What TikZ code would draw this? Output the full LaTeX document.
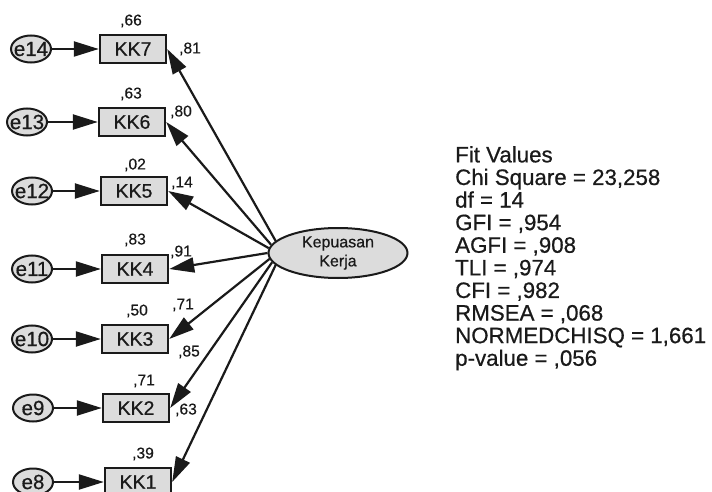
\documentclass[tikz,border=0pt]{standalone}
\usepackage{fontspec}
\setmainfont{Liberation Sans}[FakeBold=0.6]
\usetikzlibrary{arrows.meta,shapes.geometric}
\definecolor{cInk}{HTML}{1A1A1A}
\definecolor{cFill}{HTML}{DCDCDC}
\newcommand{\errlbl}[1]{\makebox[0pt]{#1}}

\begin{document}
\begin{tikzpicture}[x=1pt,y=-1pt,
  obs/.style={draw=cInk,fill=cFill,line width=2.4pt,minimum width=66pt,
              minimum height=28pt,inner sep=0pt,text=cInk,
              font=\fontsize{19.5}{20}\selectfont},
  err/.style={ellipse,draw=cInk,fill=cFill,line width=2pt,minimum width=40pt,
              minimum height=27pt,inner sep=0pt,text=cInk,
              font=\fontsize{20.5}{21}\selectfont},
  lat/.style={ellipse,draw=cInk,fill=cFill,line width=2pt,minimum width=139pt,
              minimum height=50pt,inner sep=0pt,align=center,text=cInk,
              font=\fontsize{16}{19}\selectfont},
  ar/.style={-{Triangle[length=25pt,width=15pt]},line width=2.2pt,draw=cInk,fill=cInk},
  est/.style={font=\fontsize{15.6}{16}\selectfont,inner sep=0pt,text=cInk}]

\clip (0,0) rectangle (712,492);

\node[obs] (kk7) at (133,49) {KK7};
\node[obs] (kk6) at (132,122) {KK6};
\node[obs] (kk5) at (134,191) {KK5};
\node[obs] (kk4) at (135,269) {KK4};
\node[obs] (kk3) at (135,339) {KK3};
\node[obs] (kk2) at (136,408) {KK2};
\node[obs] (kk1) at (138,482) {KK1};

\node[err] (e14) at (31,49) {\errlbl{e14}};
\node[err] (e13) at (27,122) {\errlbl{e13}};
\node[err] (e12) at (32,191) {\errlbl{e12}};
\node[err] (e11) at (32,269) {\errlbl{e11}};
\node[err] (e10) at (32,339) {\errlbl{e10}};
\node[err] (e9) at (33,408) {\errlbl{e9}};
\node[err] (e8) at (33,482) {\errlbl{e8}};

\node[lat] (lv) at (338,253) {Kepuasan\\Kerja};

\draw[ar] (e14) -- (kk7);
\draw[ar] (e13) -- (kk6);
\draw[ar] (e12) -- (kk5);
\draw[ar] (e11) -- (kk4);
\draw[ar] (e10) -- (kk3);
\draw[ar] (e9) -- (kk2);
\draw[ar] (e8) -- (kk1);

\draw[ar] (lv.169) -- (kk7.east);
\draw[ar] (lv.173) -- (kk6.east);
\draw[ar] (lv.176) -- (kk5.east);
\draw[ar] (lv.180) -- (kk4.east);
\draw[ar] (lv.185) -- (kk3.east);
\draw[ar] (lv.188) -- (kk2.east);
\draw[ar] (lv.191) -- (kk1.east);

\node[est] (r7) at (131,21) {,66};
\node[est] (r6) at (131,94) {,63};
\node[est] (r5) at (135,165) {,02};
\node[est] (r4) at (135,240) {,83};
\node[est] (r3) at (137,311) {,50};
\node[est] (r2) at (144,381) {,71};
\node[est] (r1) at (143,454) {,39};

\node[est] (l7) at (190,49) {,81};
\node[est] (l6) at (181,112) {,80};
\node[est] (l5) at (182,183) {,14};
\node[est] (l4) at (181,252) {,91};
\node[est] (l3) at (183,305) {,71};
\node[est] (l2) at (189,352) {,85};
\node[est] (l1) at (186,410) {,63};

\node[font=\fontsize{22.3}{22.6}\selectfont,align=left,anchor=north west,
      inner sep=0pt,text=cInk] (fit) at (455,146)
  {Fit Values\\
   Chi Square = 23,258\\
   df = 14\\
   GFI = ,954\\
   AGFI = ,908\\
   TLI = ,974\\
   CFI = ,982\\
   RMSEA = ,068\\
   NORMEDCHISQ = 1,661\\
   p-value = ,056};
\end{tikzpicture}
\end{document}
